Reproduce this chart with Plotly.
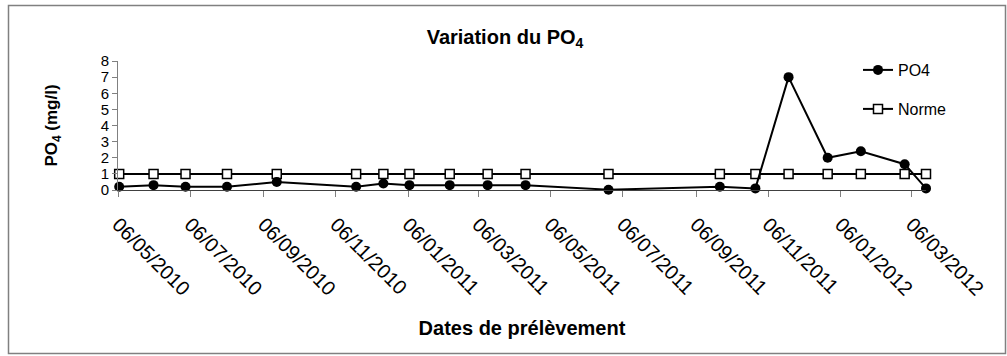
import plotly.graph_objects as go

dates = ["2010-05-07", "2010-06-05", "2010-07-02", "2010-08-06", "2010-09-17",
         "2010-11-23", "2010-12-16", "2011-01-07", "2011-02-10", "2011-03-14",
         "2011-04-15", "2011-06-24", "2011-09-26", "2011-10-26", "2011-11-23",
         "2011-12-26", "2012-01-23", "2012-02-29", "2012-03-18"]
po4 = [0.2, 0.3, 0.2, 0.2, 0.5, 0.2, 0.4, 0.3, 0.3, 0.3,
       0.3, 0.02, 0.2, 0.1, 7.0, 2.0, 2.4, 1.6, 0.1]
norme = [1, 1, 1, 1, 1, 1, 1, 1, 1, 1, 1, 1, 1, 1, 1, 1, 1, 1, 1]

tick_vals = ["2010-05-06", "2010-07-06", "2010-09-06", "2010-11-06", "2011-01-06",
             "2011-03-06", "2011-05-06", "2011-07-06", "2011-09-06", "2011-11-06",
             "2012-01-06", "2012-03-06"]
tick_text = ["06/05/2010", "06/07/2010", "06/09/2010", "06/11/2010", "06/01/2011",
             "06/03/2011", "06/05/2011", "06/07/2011", "06/09/2011", "06/11/2011",
             "06/01/2012", "06/03/2012"]
y_ticks = [0, 1, 2, 3, 4, 5, 6, 7, 8]

FONT = "Liberation Sans, Arial, sans-serif"

fig = go.Figure()
fig.add_trace(go.Scatter(
    x=dates, y=norme, name="Norme", mode="lines+markers",
    line=dict(color="black", width=2),
    marker=dict(symbol="square", size=9, color="white", line=dict(color="black", width=1.5)),
    cliponaxis=False, legend="legend2"))
fig.add_trace(go.Scatter(
    x=dates, y=po4, name="PO4", mode="lines+markers",
    line=dict(color="black", width=2),
    marker=dict(symbol="circle", size=10, color="black"),
    cliponaxis=False, legend="legend"))

L, R, T, B = 118, 81, 61, 166
W, H = 1007, 356
pw = W - L - R
ph = H - T - B

def px_x(p):
    return (p - L) / pw

def px_y(p):
    return (H - B - p) / ph

fig.update_layout(
    width=W, height=H,
    margin=dict(l=L, r=R, t=T, b=B),
    paper_bgcolor="white", plot_bgcolor="white",
    font=dict(family=FONT, color="black"),
    showlegend=True,
    title=dict(text="<b>Variation du PO<sub>4</sub></b>", x=px_x(505), xanchor="center",
               xref="paper", y=1 - 37 / H, yanchor="middle",
               font=dict(size=20, family=FONT)),
    xaxis=dict(
        type="date", range=["2010-05-06", "2012-03-18"],
        tickvals=tick_vals, ticktext=tick_text, tickangle=45,
        tickfont=dict(size=20, family=FONT), ticklabelstandoff=8,
        ticks="outside", ticklen=6, tickcolor="#808080",
        showline=True, linecolor="#404040", linewidth=1,
        showgrid=False, zeroline=False,
        title=dict(text="<b>Dates de prélèvement</b>", font=dict(size=20, family=FONT), standoff=22),
    ),
    yaxis=dict(
        range=[0, 8], tickvals=y_ticks, tickfont=dict(size=15, family=FONT),
        ticks="outside", ticklen=5, tickcolor="#808080",
        showline=True, linecolor="#808080", linewidth=1,
        showgrid=False, zeroline=False,
        title=dict(text="<b>PO<sub>4</sub> (mg/l)</b>", font=dict(size=17, family=FONT), standoff=38),
    ),
    legend=dict(x=px_x(858), y=px_y(70), xanchor="left", yanchor="middle",
                font=dict(size=16, family=FONT), bgcolor="rgba(0,0,0,0)"),
    legend2=dict(x=px_x(858), y=px_y(109), xanchor="left", yanchor="middle",
                 font=dict(size=16, family=FONT), bgcolor="rgba(0,0,0,0)"),
    shapes=[dict(type="rect", xref="paper", yref="paper",
                 x0=px_x(8.5), x1=px_x(1005.5), y0=px_y(353.5), y1=px_y(5.5),
                 line=dict(color="#808080", width=1.5), fillcolor="rgba(0,0,0,0)", layer="below")],
)

fig.write_html("out.html", config={"displayModeBar": False},
               post_script="document.body.style.margin='0';document.body.style.overflow='hidden';")
